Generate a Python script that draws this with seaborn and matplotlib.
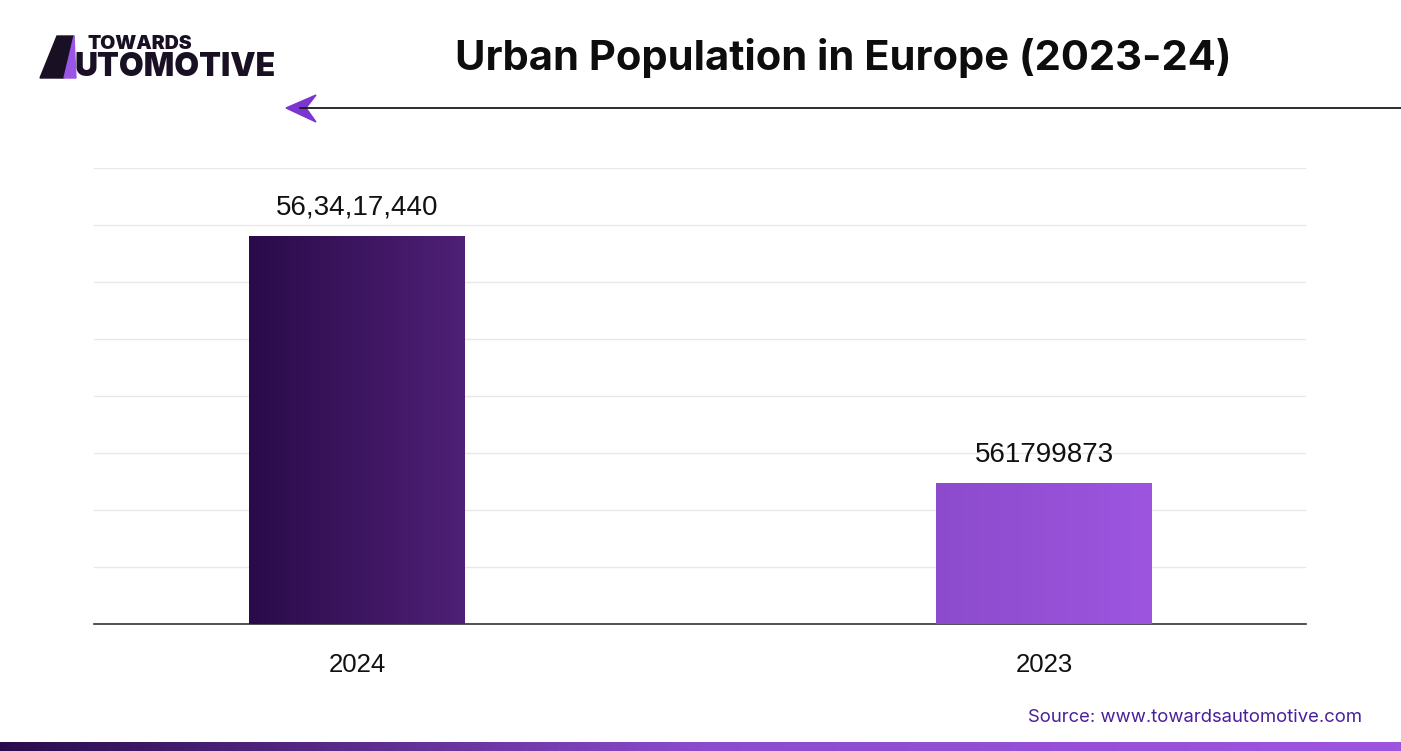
import numpy as np
import pandas as pd
import matplotlib.pyplot as plt
import matplotlib.colors as mcolors
from matplotlib.patches import Polygon
import seaborn as sns

# data
years = ['2024', '2023']
population = [563417440, 561799873]
value_labels = ['56,34,17,440', '561799873']
bar_grads = [('#2a0b4a', '#4f2076'), ('#8c4bcc', '#9d55e0')]

title = 'Urban Population in Europe (2023-24)'
source = 'Source: www.towardsautomotive.com'

# axis range (the chart does not start at zero)
y_lo, y_hi = 560876500, 563862700

sns.set_theme(style='white')
plt.rcParams['font.family'] = ['Liberation Sans', 'DejaVu Sans']

fig = plt.figure(figsize=(14.01, 7.51), dpi=100)
ax = fig.add_axes([94 / 1401, 1 - 624 / 751, 1212 / 1401, 456 / 751])

df = pd.DataFrame({'year': years, 'pop': population})
sns.barplot(data=df, x='year', y='pop', ax=ax, width=0.314, color='white',
            linewidth=0, zorder=3)

ax.set_xlim(-0.383, 1.381)
ax.set_ylim(y_lo, y_hi)

# gradient fills clipped to each bar
for patch, (c0, c1) in zip(ax.patches, bar_grads):
    x0, y0 = patch.get_x(), y_lo
    x1, y1 = x0 + patch.get_width(), patch.get_height()
    cmap = mcolors.LinearSegmentedColormap.from_list('g', [c0, c1])
    im = ax.imshow(np.linspace(0, 1, 256).reshape(1, -1), cmap=cmap, aspect='auto',
                   extent=[x0, x1, y0, y1], zorder=4)
    im.set_clip_path(patch)
ax.set_xlim(-0.383, 1.381)
ax.set_ylim(y_lo, y_hi)

for i, (v, lab) in enumerate(zip(population, value_labels)):
    ax.annotate(lab, (i, v), xytext=(0, 11), textcoords='offset points',
                ha='center', va='bottom', fontsize=20, color='#111111', zorder=5)

ax.set_yticks(np.linspace(y_lo, y_hi, 9))
ax.set_yticklabels([])
ax.yaxis.grid(True, color='#e8e8e8', linewidth=1)
ax.set_axisbelow(True)
ax.tick_params(axis='y', length=0)
ax.tick_params(axis='x', length=0, pad=21, labelsize=18.5, labelcolor='#111111')
ax.set_xlabel('')
ax.set_ylabel('')
for s in ['top', 'right', 'left']:
    ax.spines[s].set_visible(False)
ax.spines['bottom'].set_color('#333333')
ax.spines['bottom'].set_linewidth(1.2)

# title
fig.text(843 / 1401, 1 - 58 / 751, title, ha='center', va='center',
         fontsize=30, fontweight='bold', color='#0d0d0d', family=['Inter', 'DejaVu Sans'])

# header line with arrow
fig.add_artist(plt.Line2D([300 / 1401, 1], [1 - 108 / 751] * 2, color='#1a1a1a', lw=1.3))
fig.add_artist(Polygon([[286 / 1401, 1 - 108 / 751], [316 / 1401, 1 - 95 / 751],
                        [306 / 1401, 1 - 108 / 751], [316 / 1401, 1 - 122 / 751]],
                       closed=True, color='#7b35d0', transform=fig.transFigure))

# logo
fig.add_artist(Polygon([[40 / 1401, 1 - 78 / 751], [57 / 1401, 1 - 36 / 751],
                        [74 / 1401, 1 - 36 / 751], [64 / 1401, 1 - 78 / 751]],
                       closed=True, color='#1a1024', transform=fig.transFigure))
fig.add_artist(Polygon([[64 / 1401, 1 - 78 / 751], [74 / 1401, 1 - 36 / 751],
                        [76 / 1401, 1 - 78 / 751]],
                       closed=True, color='#9b55e6', transform=fig.transFigure))
fig.text(88 / 1401, 1 - 44 / 751, 'TOWARDS', fontsize=14, fontweight='black',
         color='#1a1024', va='center', family=['Inter', 'DejaVu Sans'])
fig.text(75 / 1401, 1 - 67 / 751, 'UTOMOTIVE', fontsize=23, fontweight='black',
         color='#1a1024', va='center', family=['Inter', 'DejaVu Sans'])

# source
fig.text(1362 / 1401, 1 - 718 / 751, source, ha='right', va='center',
         fontsize=13.3, color='#4a1f9c', family=['Inter', 'DejaVu Sans'])

# bottom gradient strip
strip = fig.add_axes([0, 0, 1, 9 / 751])
strip_cmap = mcolors.LinearSegmentedColormap.from_list('s', ['#2a0b4a', '#8c4bcc', '#9d55e0'])
strip.imshow(np.linspace(0, 1, 256).reshape(1, -1), cmap=strip_cmap, aspect='auto')
strip.axis('off')

fig.savefig('out.png', dpi=100)
